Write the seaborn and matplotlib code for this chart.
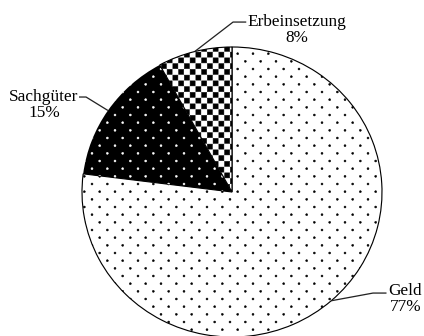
import numpy as np
import matplotlib
matplotlib.use("Agg")
import matplotlib.pyplot as plt
import matplotlib.hatch as mhatch
from matplotlib.path import Path
import seaborn as sns

labels = ["Geld", "Sachgüter", "Erbeinsetzung"]
shares = [77, 15, 8]
pct_text = ["77%", "15%", "8%"]


# staggered dot pattern: n dots per row, 2n rows per hatch cell
class Dots(mhatch.HatchPatternBase):
    radius = 0.0105

    def __init__(self, hatch, density):
        self.n = hatch.count('.') * density
        circ = Path.unit_circle()
        self.shape_vertices = circ.vertices * self.radius
        self.shape_codes = circ.codes
        self.pts = []
        if self.n:
            for r in range(2 * self.n + 1):
                y = r / (2 * self.n)
                if r % 2 == 0:
                    xs = np.linspace(0, 1, self.n + 1)
                else:
                    xs = (np.arange(self.n) + 0.5) / self.n
                self.pts += [(x, y) for x in xs]
        self.num_vertices = len(self.pts) * len(self.shape_vertices)

    def set_vertices_and_codes(self, vertices, codes):
        k = len(self.shape_vertices)
        for i, (x, y) in enumerate(self.pts):
            vertices[i * k:(i + 1) * k] = self.shape_vertices + (x, y)
            codes[i * k:(i + 1) * k] = self.shape_codes


# checkerboard pattern
class Checker(mhatch.HatchPatternBase):
    periods = 8

    def __init__(self, hatch, density):
        m = 2 * self.periods * hatch.count('X')
        self.m = m
        self.cells = [(i, j) for i in range(m) for j in range(m) if (i + j) % 2 == 0]
        self.num_vertices = len(self.cells) * 5

    def set_vertices_and_codes(self, vertices, codes):
        s = 1.0 / self.m
        e = 0.004
        for k, (i, j) in enumerate(self.cells):
            x0, y0 = i * s + e, j * s + e
            x1, y1 = (i + 1) * s - e, (j + 1) * s - e
            vertices[k * 5:(k + 1) * 5] = [(x0, y0), (x1, y0), (x1, y1), (x0, y1), (x0, y0)]
            codes[k * 5:(k + 1) * 5] = [Path.MOVETO, Path.LINETO, Path.LINETO,
                                        Path.LINETO, Path.CLOSEPOLY]


mhatch._hatch_types = [Dots, Checker]

sns.set_style("white")
plt.rcParams['font.family'] = ['Liberation Serif', 'DejaVu Serif']
plt.rcParams['hatch.linewidth'] = 0.4

fig = plt.figure(figsize=(424 / 92, 336 / 92), dpi=92)
ax = fig.add_axes([0, 0, 1, 1])

wedges, _ = ax.pie(shares, startangle=90, counterclock=False,
                   colors=['white', 'black', 'white'],
                   wedgeprops=dict(edgecolor='black', linewidth=0.9))
wedges[0].set_hatch('.')
wedges[1].set_edgecolor('white')
wedges[1].set_linewidth(0)
wedges[1].set_hatch('.')
wedges[2].set_hatch('X')

ax.set_aspect('auto')
ax.set_xlim(-232 / 150, 192 / 150)
ax.set_ylim(-144 / 145, 192 / 145)
ax.axis('off')

# label centres, and leader line elbow/end points
text_pos = [(1.155, -0.738), (-1.253, 0.60), (0.433, 1.12)]
leaders = [[(0.94, -0.697), (1.03, -0.697)],
           [(-0.973, 0.655), (-1.02, 0.655)],
           [(0.007, 1.172), (0.095, 1.172)]]

for w, lab, pct, tp, ld in zip(wedges, labels, pct_text, text_pos, leaders):
    mid = np.deg2rad((w.theta1 + w.theta2) / 2)
    edge = (np.cos(mid), np.sin(mid))
    xs = [edge[0]] + [p[0] for p in ld]
    ys = [edge[1]] + [p[1] for p in ld]
    ax.plot(xs, ys, color='#222222', lw=1.0, solid_capstyle='butt')
    ax.text(tp[0], tp[1], f"{lab}\n{pct}", ha='center', va='center',
            multialignment='center', fontsize=13.5, linespacing=1.0,
            color='black')

fig.savefig("out.png", dpi=92)
